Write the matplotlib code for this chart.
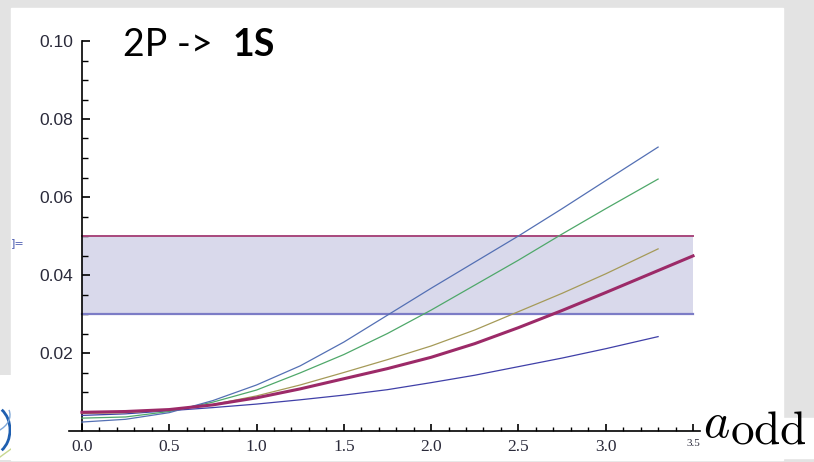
import numpy as np
import matplotlib
matplotlib.use("Agg")
import matplotlib.pyplot as plt
from matplotlib.patches import Rectangle, Arc

plt.rcParams['mathtext.fontset'] = 'cm'

# sampled curves, decay width vs a_odd
x_thin = [0, 0.25, 0.5, 0.75, 1.0, 1.25, 1.5, 1.75, 2.0, 2.25, 2.5, 2.75, 3.0, 3.3]
y_blue = [0.0023, 0.0030, 0.0047, 0.0078, 0.0118, 0.0167, 0.0228, 0.0297,
          0.0366, 0.0433, 0.0500, 0.0570, 0.0642, 0.0728]
y_green = [0.0033, 0.0036, 0.0050, 0.0074, 0.0105, 0.0149, 0.0196, 0.0250,
           0.0310, 0.0374, 0.0438, 0.0505, 0.0570, 0.0646]
y_olive = [0.0045, 0.0047, 0.0054, 0.0068, 0.0090, 0.0118, 0.0150, 0.0183,
           0.0218, 0.0259, 0.0306, 0.0353, 0.0403, 0.0467]
y_navy = [0.0040, 0.0044, 0.0052, 0.0060, 0.0069, 0.0080, 0.0092, 0.0106,
          0.0124, 0.0143, 0.0165, 0.0187, 0.0211, 0.0242]

x_thick = [0, 0.25, 0.5, 0.75, 1.0, 1.25, 1.5, 1.75, 2.0, 2.25, 2.5, 2.75, 3.0, 3.25, 3.5]
y_thick = [0.0048, 0.0050, 0.0055, 0.0067, 0.0085, 0.0108, 0.0134, 0.0160,
           0.0189, 0.0224, 0.0265, 0.0309, 0.0355, 0.0402, 0.0449]

band_x = [0, 3.5]
band_lo = 0.03
band_hi = 0.05

W, H = 814, 462
fig = plt.figure(figsize=(W / 100, H / 100), dpi=100, facecolor='#e3e3e3')

def px(x0, y0, w, h):
    # pixel box (top-left origin) -> figure fraction rect
    return (x0 / W, 1 - (y0 + h) / H, w / W, h / H)

# slide panel behind everything
l, b, w, h = px(11, 8, 772, 452)
fig.patches.append(Rectangle((l, b), w, h, transform=fig.transFigure, color='white', zorder=-5))
l, b, w, h = px(700, 418, 114, 40)
fig.patches.append(Rectangle((l, b), w, h, transform=fig.transFigure, color='white', zorder=-5))

# piece of logo at the lower left
lax = fig.add_axes(px(0, 375, 11, 85))
lax.set_xlim(0, 11)
lax.set_ylim(85, 0)
lax.axis('off')
lax.add_patch(Rectangle((0, 0), 11, 85, color='white'))
lax.add_patch(Arc((-10, 55), 40, 50, theta1=-60, theta2=60, color='#1f5fb0', lw=2))
lax.add_patch(Arc((-20, 40), 60, 40, theta1=-10, theta2=40, color='#7fa8d8', lw=1))
lax.plot([0, 11], [82, 74], color='#c8d890', lw=1)

fig.text(11 / W, 1 - 243 / H, ']=', color='#4a5ab0', fontsize=8, va='center')

ax = fig.add_axes(px(69, 41, 631, 390))
ax.patch.set_alpha(0)
ax.set_xlim(-0.074, 3.54)
ax.set_ylim(0, 0.10)

ax.fill_between(band_x, band_lo, band_hi, color='#d9d9eb', lw=0, zorder=1)
ax.plot(band_x, [band_hi, band_hi], color='#a8487c', lw=1.4, zorder=2)
ax.plot(band_x, [band_lo, band_lo], color='#7c7cc6', lw=1.6, zorder=2)

ax.plot(x_thin, y_navy, color='#4040a8', lw=0.9, zorder=3)
ax.plot(x_thin, y_olive, color='#a59a58', lw=0.9, zorder=3)
ax.plot(x_thin, y_green, color='#4fa86a', lw=0.9, zorder=3)
ax.plot(x_thin, y_blue, color='#5470b4', lw=0.9, zorder=3)
ax.plot(x_thick, y_thick, color='#9c2a68', lw=2.2, zorder=4)

for s in ['top', 'right']:
    ax.spines[s].set_visible(False)
ax.spines['left'].set_position(('data', 0))
ax.spines['left'].set_bounds(0, 0.10)
ax.spines['left'].set_linewidth(1.2)
ax.spines['bottom'].set_linewidth(1.2)

ax.set_xticks(np.arange(0, 3.51, 0.5))
ax.set_xticks(np.arange(0, 3.51, 0.1), minor=True)
ax.set_yticks(np.arange(0.02, 0.101, 0.02))
ax.set_yticks(np.arange(0.005, 0.1, 0.005), minor=True)
ax.set_xticklabels(['%.1f' % v for v in np.arange(0, 3.51, 0.5)],
                   family='Liberation Serif', fontsize=12.5, color='#2a2a3a')
ax.set_yticklabels(['%.2f' % v for v in np.arange(0.02, 0.101, 0.02)],
                   family='Liberation Sans', fontsize=12.5, color='#2a2a3a')
ax.get_xticklabels()[-1].set_fontsize(8)
ax.tick_params(axis='x', which='major', direction='in', length=5, width=1.2, pad=6)
ax.tick_params(axis='x', which='minor', direction='in', length=3, width=1)
ax.tick_params(axis='y', which='major', direction='in', length=6, width=1.2, pad=6)
ax.tick_params(axis='y', which='minor', direction='in', length=4, width=1)

t1 = fig.text(123 / W, 1 - 56 / H, '2P ->', family='Lato', fontsize=27, va='baseline')
fig.canvas.draw()
bb = t1.get_window_extent()
fig.text((bb.x1 + 20) / W, 1 - 56 / H, '1S', family='Lato', fontsize=27,
         fontweight='bold', va='baseline')

fig.text(703 / W, 1 - 437 / H, r'$a$', fontsize=36, va='baseline')
fig.text(730 / W, 1 - 444 / H, r'$\mathrm{odd}$', fontsize=34, va='baseline')

fig.savefig('out.png', dpi=100, facecolor=fig.get_facecolor())
